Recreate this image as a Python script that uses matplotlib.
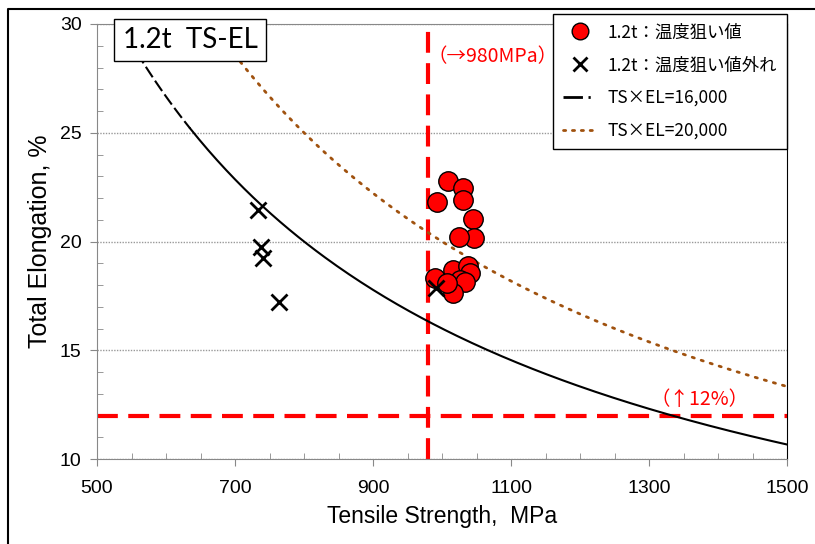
import numpy as np
import matplotlib
matplotlib.use('Agg')
import matplotlib.pyplot as plt
from matplotlib.lines import Line2D

# data points (TS in MPa, total elongation in %)
ts_hit = [1008.7, 1030.4, 1030.4, 992.8, 1044.9, 1046.4, 1024.6,
          989.9, 1015.9, 1037.7, 1040.6, 1026.1, 1033.3, 1015.9, 1007.2]
el_hit = [22.78, 22.46, 21.91, 21.82, 21.03, 20.16, 20.21,
          18.32, 18.69, 18.87, 18.55, 18.23, 18.14, 17.63, 18.09]

ts_miss = [733.8, 737.2, 741.0, 764.2, 991.3]
el_miss = [21.45, 19.76, 19.23, 17.23, 17.85]

# TS x EL balance curves and target lines
ts_el_low = 16000
ts_el_high = 20000
ts_split = 635          # low curve drawn dashed below this TS
ts_target = 980
el_target = 12

jp = ['Noto Sans CJK JP', 'DejaVu Sans']
plt.rcParams['font.family'] = ['Liberation Sans', 'DejaVu Sans']

fig = plt.figure(figsize=(8.15, 5.44), dpi=100)
ax = fig.add_axes([97/815, 1-459/544, 690/815, 435/544])

# target lines
red_kw = dict(color='#ff0000', lw=3, dashes=(5, 2.5), zorder=2)
ax.plot([ts_target, ts_target], [10, 30], **red_kw)
ax.plot([500, 1500], [el_target, el_target], **red_kw)

# balance curves
ts_a = np.linspace(ts_el_low / 30, ts_split, 50)
ts_b = np.linspace(ts_split, 1500, 200)
ax.plot(ts_a, ts_el_low / ts_a, color='black', lw=1.5, dashes=(6, 2), zorder=3)
ax.plot(ts_b, ts_el_low / ts_b, color='black', lw=1.5, zorder=3)
ts_c = np.linspace(ts_el_high / 30, 1500, 200)
ax.plot(ts_c, ts_el_high / ts_c, color='#a0520f', lw=2, ls=(0, (0.8, 2.6)),
        dash_capstyle='round', zorder=3)

# measured points
ax.plot(ts_hit, el_hit, 'o', ms=14, mfc='#ff0000', mec='black', mew=1, zorder=4)
ax.plot(ts_miss, el_miss, 'x', ms=11, color='black', mew=2, zorder=5)

ax.set_xlim(500, 1500)
ax.set_ylim(10, 30)
ax.set_xticks(np.arange(500, 1501, 200))
ax.set_xticks(np.arange(500, 1501, 50), minor=True)
ax.set_yticks(np.arange(10, 31, 5))
ax.set_yticks(np.arange(10, 31, 1), minor=True)
ax.tick_params(which='major', direction='out', length=5, color='#888888',
               labelsize=14, pad=6)
ax.tick_params(which='minor', direction='in', length=4, color='#888888')
ax.tick_params(axis='x', pad=10)
for side in ['left', 'bottom', 'top']:
    ax.spines[side].set_color('#888888')
ax.spines['right'].set_color('black')

ax.yaxis.grid(True, color='#999999', ls=(0, (1, 1)), lw=1)
ax.set_axisbelow(True)

ax.set_xlabel('Tensile Strength,  MPa', fontsize=16.5, labelpad=6)
ax.set_ylabel('Total Elongation, %', fontsize=18, labelpad=6)

ax.text(979, 28.52, '（→980MPa）', color='#ff0000', fontsize=14, family=jp,
        va='center', ha='left')
ax.text(1373, 12.72, '（↑12%）', color='#ff0000', fontsize=14, family=jp,
        va='center', ha='center')

fig.text(190/815, 1-40/544, '1.2t  TS-EL', fontsize=20, family=['Lato', 'DejaVu Sans'],
         ha='center', va='center', zorder=10,
         bbox=dict(boxstyle='square,pad=0.3', fc='white', ec='black', lw=1))

handles = [
    Line2D([], [], ls='none', marker='o', ms=12, mfc='#ff0000', mec='black'),
    Line2D([], [], ls='none', marker='x', ms=10, color='black', mew=2),
    Line2D([], [], color='black', lw=2, dashes=(7, 2, 0.8, 20)),
    Line2D([], [], color='#a0520f', lw=2, ls=(0, (0.8, 2.4)), dash_capstyle='round'),
]
labels = ['1.2t：温度狙い値', '1.2t：温度狙い値外れ', 'TS×EL=16,000', 'TS×EL=20,000']
leg = fig.legend(handles, labels, loc='upper left', bbox_to_anchor=(553/815, 1-14/544),
                 prop={'family': jp, 'size': 12.5}, frameon=True, fancybox=False,
                 edgecolor='black', framealpha=1, borderpad=0.55, labelspacing=0.85,
                 handlelength=2.0, handletextpad=0.6, borderaxespad=0)
leg.get_frame().set_linewidth(1)

# outer border of the sheet
fig.add_artist(Line2D([8/815, 8/815, 1], [0, 1-9/544, 1-9/544],
                      transform=fig.transFigure, color='black', lw=1.5))

fig.savefig('out.png', dpi=100)
